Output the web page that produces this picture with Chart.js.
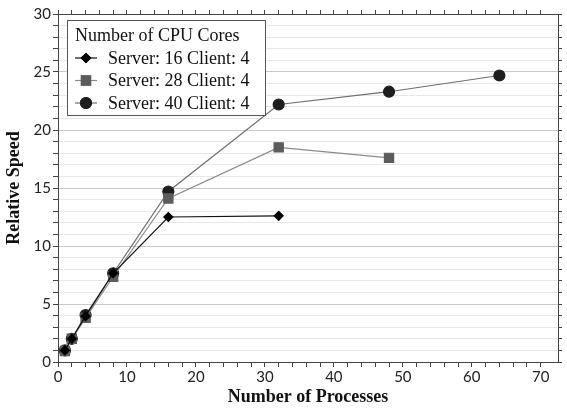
<!DOCTYPE html>
<html>
<head>
<meta charset="utf-8">
<script src="https://cdn.jsdelivr.net/npm/chart.js@4.4.1/dist/chart.umd.min.js"></script>
<style>
  html, body { margin: 0; padding: 0; background: #fff; }
  #wrap { width: 567px; height: 408px; }
</style>
</head>
<body>
<div id="wrap"><canvas id="chart" width="567" height="408"></canvas></div>
<script>
// chart data
const procs16 = [1, 2, 4, 8, 16, 32];
const speed16 = [1, 2, 3.95, 7.65, 12.5, 12.6];
const procs28 = [1, 2, 4, 8, 16, 32, 48];
const speed28 = [0.95, 2, 3.8, 7.35, 14.1, 18.5, 17.6];
const procs40 = [1, 2, 4, 8, 16, 32, 48, 64];
const speed40 = [1, 2, 4.05, 7.65, 14.7, 22.2, 23.3, 24.7];
const seriesLabels = ['Server: 16 Client: 4', 'Server: 28 Client: 4', 'Server: 40 Client: 4'];
const legendTitle = 'Number of CPU Cores';
const xTitle = 'Number of Processes';
const yTitle = 'Relative Speed';

const serif = '"Liberation Serif", "DejaVu Serif", serif';
const sans = 'Lato, "DejaVu Sans", sans-serif';

function toPoints(xs, ys) {
    return xs.map((x, i) => ({ x: x, y: ys[i] }));
}

// legend drawn inside the plot area, boxed like the original
const boxLegend = {
    id: 'boxLegend',
    afterDraw(chart) {
        const ctx = chart.ctx;
        const area = chart.chartArea;
        const left = area.left + 9, top = area.top + 6;
        const w = 198, h = 95;
        ctx.save();
        ctx.fillStyle = '#fff';
        ctx.fillRect(left, top, w, h);
        ctx.strokeStyle = '#555';
        ctx.lineWidth = 1;
        ctx.strokeRect(left + 0.5, top + 0.5, w, h);
        ctx.fillStyle = '#111';
        ctx.font = '18px ' + serif;
        ctx.textBaseline = 'middle';
        ctx.fillText(legendTitle, left + 8, top + 16);
        chart.data.datasets.forEach((ds, i) => {
            const cy = top + 38 + i * 22.5;
            ctx.strokeStyle = ds.borderColor;
            ctx.lineWidth = 1.2;
            ctx.beginPath();
            ctx.moveTo(left + 8, cy);
            ctx.lineTo(left + 30, cy);
            ctx.stroke();
            Chart.helpers.drawPoint(ctx, {
                pointStyle: ds.pointStyle,
                radius: ds.pointRadius,
                rotation: 0,
                borderWidth: 1
            }, left + 19, cy);
            ctx.fillStyle = ds.pointBackgroundColor;
            ctx.strokeStyle = ds.pointBorderColor;
            ctx.beginPath();
            Chart.helpers.drawPoint(ctx, {
                pointStyle: ds.pointStyle,
                radius: ds.pointRadius,
                rotation: 0,
                borderWidth: 1
            }, left + 19, cy);
            ctx.fillStyle = '#111';
            ctx.fillText(ds.label, left + 41, cy + 1);
        });
        ctx.restore();
    }
};

const minorGrid = ctx => (ctx.tick && ctx.tick.value % 5 === 0) ? '#c8c8c8' : '#e8e8e8';

new Chart(document.getElementById('chart'), {
    type: 'line',
    data: {
        datasets: [
            {
                label: seriesLabels[0],
                data: toPoints(procs16, speed16),
                borderColor: '#111',
                borderWidth: 1.2,
                pointStyle: 'rectRot',
                pointRadius: 4.5,
                pointBackgroundColor: '#000',
                pointBorderColor: '#000',
                tension: 0
            },
            {
                label: seriesLabels[1],
                data: toPoints(procs28, speed28),
                borderColor: '#8a8a8a',
                borderWidth: 1.2,
                pointStyle: 'rect',
                pointRadius: 6.5,
                pointBackgroundColor: '#5c5c5c',
                pointBorderColor: '#5c5c5c',
                tension: 0
            },
            {
                label: seriesLabels[2],
                data: toPoints(procs40, speed40),
                borderColor: '#6e6e6e',
                borderWidth: 1.2,
                pointStyle: 'circle',
                pointRadius: 5.5,
                pointBackgroundColor: '#1e1e1e',
                pointBorderColor: '#1e1e1e',
                tension: 0
            }
        ]
    },
    options: {
        responsive: false,
        animation: false,
        layout: { padding: { left: 4, right: 0, top: 0, bottom: 0 } },
        plugins: {
            legend: { display: false },
            tooltip: { enabled: false }
        },
        scales: {
            x: {
                type: 'linear',
                position: 'bottom',
                min: 0,
                max: 72.5,
                afterFit: s => { s.height = 46; },
                afterBuildTicks: s => { s.ticks = s.ticks.filter(t => t.value % 2 === 0); },
                ticks: {
                    stepSize: 2,
                    autoSkip: false,
                    maxRotation: 0,
                    padding: 1,
                    color: '#222',
                    font: { family: sans, size: 15 },
                    callback: v => (v % 10 === 0 ? v : '')
                },
                grid: { drawOnChartArea: false, drawTicks: true, tickLength: 5, tickColor: '#444' },
                border: { color: '#444', width: 1 },
                title: {
                    display: true,
                    text: xTitle,
                    color: '#111',
                    padding: { top: 0, bottom: 0 },
                    font: { family: serif, size: 18, weight: 'bold' }
                }
            },
            x2: {
                type: 'linear',
                position: 'top',
                min: 0,
                max: 72.5,
                afterFit: s => { s.height = 14; },
                afterBuildTicks: s => { s.ticks = s.ticks.filter(t => t.value % 2 === 0); },
                ticks: { stepSize: 2, display: false },
                grid: { drawOnChartArea: false, tickLength: 4, tickColor: '#444' },
                border: { color: '#444', width: 1 }
            },
            y: {
                type: 'linear',
                position: 'left',
                min: 0,
                max: 30,
                afterFit: s => { s.width = 54; },
                ticks: {
                    stepSize: 1,
                    autoSkip: false,
                    padding: 2,
                    color: '#222',
                    font: { family: sans, size: 15 },
                    callback: v => (v % 5 === 0 ? v : '')
                },
                grid: { color: minorGrid, tickLength: 5, tickColor: '#444' },
                border: { color: '#444', width: 1 },
                title: {
                    display: true,
                    text: yTitle,
                    color: '#111',
                    padding: { top: 0, bottom: 2 },
                    font: { family: serif, size: 18, weight: 'bold' }
                }
            },
            y2: {
                type: 'linear',
                position: 'right',
                min: 0,
                max: 30,
                afterFit: s => { s.width = 9; },
                ticks: { stepSize: 1, display: false },
                grid: { drawOnChartArea: false, tickLength: 4, tickColor: '#444' },
                border: { color: '#444', width: 1 }
            }
        }
    },
    plugins: [boxLegend]
});
</script>
</body>
</html>
